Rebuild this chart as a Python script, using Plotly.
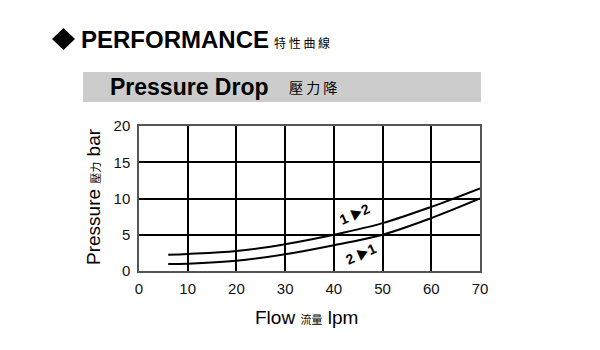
import plotly.graph_objects as go

# Pressure drop vs. flow for both flow directions
flow_12 = [6, 10, 20, 30, 40, 50, 60, 70]
pressure_12 = [2.25, 2.35, 2.75, 3.7, 5.0, 6.6, 8.85, 11.4]

flow_21 = [6, 10, 20, 30, 40, 50, 60, 70]
pressure_21 = [0.95, 1.0, 1.4, 2.3, 3.55, 5.0, 7.3, 10.0]

x_ticks = [0, 10, 20, 30, 40, 50, 60, 70]
y_ticks = [0, 5, 10, 15, 20]

FONT = "Liberation Sans, Arial, Noto Sans CJK TC, sans-serif"
CJK = "Noto Sans CJK TC, sans-serif"

W, H = 600, 350
L, R, T, B = 139, 120, 126, 79
PW, PH = W - L - R, H - T - B


def px(x):
    return (x - L) / PW


def py(y):
    return (H - B - y) / PH


fig = go.Figure()
fig.add_trace(go.Scatter(x=flow_12, y=pressure_12, mode="lines",
                         line=dict(color="black", width=2, shape="spline", smoothing=1.0),
                         hoverinfo="skip"))
fig.add_trace(go.Scatter(x=flow_21, y=pressure_21, mode="lines",
                         line=dict(color="black", width=2, shape="spline", smoothing=1.0),
                         hoverinfo="skip"))

shapes = [
    # grey banner behind the chart title
    dict(type="rect", xref="paper", yref="paper",
         x0=px(83), x1=px(481), y0=py(102), y1=py(72),
         fillcolor="#cccccc", line=dict(width=0), layer="below"),
    # diamond bullet before the header
    dict(type="path", xref="paper", yref="paper",
         path=f"M {px(52)},{py(39)} L {px(63.5)},{py(28)} L {px(75)},{py(39)} L {px(63.5)},{py(50)} Z",
         fillcolor="black", line=dict(width=0)),
]

arrow = "<span style='font-size:12px'>▶</span>"

annotations = [
    dict(text="<b>PERFORMANCE</b>", x=px(79), y=py(40), xref="paper", yref="paper",
         xanchor="left", yanchor="middle", showarrow=False,
         font=dict(family=FONT, size=24, color="black")),
    dict(text="特 性 曲 線", x=px(272), y=py(42), xref="paper", yref="paper",
         xanchor="left", yanchor="middle", showarrow=False,
         font=dict(family=CJK, size=12, color="black")),
    dict(text="<b>Pressure Drop</b>", x=px(108), y=py(87), xref="paper", yref="paper",
         xanchor="left", yanchor="middle", showarrow=False,
         font=dict(family=FONT, size=23, color="black")),
    dict(text="壓 力 降", x=px(287), y=py(87), xref="paper", yref="paper",
         xanchor="left", yanchor="middle", showarrow=False,
         font=dict(family=CJK, size=14, color="black")),
    dict(text="Flow <span style='font-size:11px'>流量</span> lpm", x=px(306), y=py(317),
         xref="paper", yref="paper", xanchor="center", yanchor="middle", showarrow=False,
         font=dict(family=FONT, size=19, color="black")),
    dict(text="Pressure <span style='font-size:11px'>壓力</span> bar", x=px(93), y=py(197),
         xref="paper", yref="paper", xanchor="center", yanchor="middle", showarrow=False,
         textangle=-90, font=dict(family=FONT, size=19, color="black")),
    dict(text=f"<b>1 {arrow}2</b>", x=44.3, y=7.8, xref="x", yref="y", showarrow=False,
         textangle=-24, font=dict(family=FONT, size=14, color="black")),
    dict(text=f"<b>2 {arrow}1</b>", x=45.5, y=2.4, xref="x", yref="y", showarrow=False,
         textangle=-24, font=dict(family=FONT, size=14, color="black")),
]

axis_common = dict(
    showgrid=True, gridcolor="black", gridwidth=1.5,
    showline=True, linecolor="#555555", linewidth=1.5, mirror=True,
    zeroline=False, ticks="", fixedrange=True,
    tickfont=dict(family=FONT, size=15, color="#111111"),
)

fig.update_layout(
    width=W, height=H,
    margin=dict(l=L, r=R, t=T, b=B, pad=0),
    paper_bgcolor="white", plot_bgcolor="white",
    showlegend=False,
    xaxis=dict(range=[0, 70], tickvals=x_ticks, ticktext=[str(v) for v in x_ticks],
               ticklabelstandoff=3, **axis_common),
    yaxis=dict(range=[0, 20], tickvals=y_ticks, ticktext=[str(v) for v in y_ticks],
               ticklabelstandoff=4, **axis_common),
    shapes=shapes,
    annotations=annotations,
)

fig.write_html("out.html", config={"displayModeBar": False})
